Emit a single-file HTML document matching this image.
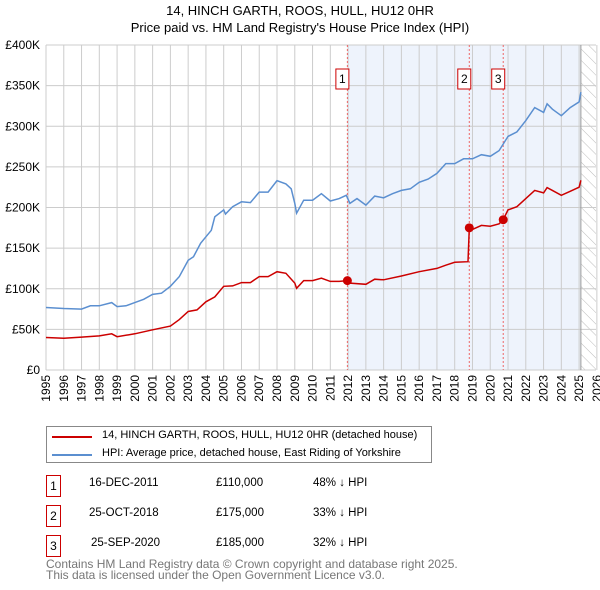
<!DOCTYPE html>
<html><head><meta charset="utf-8">
<style>
body{margin:0;background:#fff;font-family:"Liberation Sans","DejaVu Sans",sans-serif;}
#wrap{position:relative;width:600px;height:590px;overflow:hidden;}
.t{position:absolute;font-size:11.5px;color:#000;white-space:nowrap;}
.nb{position:absolute;width:13px;height:20px;border:1px solid #c00;font-size:12px;text-align:center;line-height:20px;}
</style></head><body>
<div id="wrap">
<div class="t" style="left:0;width:600px;text-align:center;top:3px;font-size:13px">14, HINCH GARTH, ROOS, HULL, HU12 0HR</div>
<div class="t" style="left:0;width:600px;text-align:center;top:20px;font-size:13px">Price paid vs. HM Land Registry's House Price Index (HPI)</div>
<svg id="chart" width="600" height="420" style="position:absolute;left:0;top:0">
<defs><pattern id="hatch" width="8" height="8" patternUnits="userSpaceOnUse" patternTransform="rotate(-45)"><line x1="0" y1="0" x2="0" y2="8" stroke="#bbb" stroke-width="1"/></pattern></defs>
<g id="g"></g>
</svg>
<div style="position:absolute;left:46px;top:426px;width:384px;height:35px;border:1px solid #888;">
<div style="position:absolute;left:5px;top:9px;width:40px;height:2px;background:#c00"></div>
<div class="t" style="left:55px;top:2px;font-size:11px">14, HINCH GARTH, ROOS, HULL, HU12 0HR (detached house)</div>
<div style="position:absolute;left:5px;top:27px;width:40px;height:2px;background:#5b8fd0"></div>
<div class="t" style="left:55px;top:20px;font-size:11px">HPI: Average price, detached house, East Riding of Yorkshire</div>
</div>
<div class="nb" style="left:46px;top:475px">1</div>
<div class="t" style="left:89px;top:477px">16-DEC-2011</div>
<div class="t" style="left:216px;top:477px">£110,000</div>
<div class="t" style="left:313px;top:477px">48% ↓ HPI</div>
<div class="nb" style="left:46px;top:505px">2</div>
<div class="t" style="left:89px;top:507px">25-OCT-2018</div>
<div class="t" style="left:216px;top:507px">£175,000</div>
<div class="t" style="left:313px;top:507px">33% ↓ HPI</div>
<div class="nb" style="left:46px;top:535px">3</div>
<div class="t" style="left:91px;top:537px">25-SEP-2020</div>
<div class="t" style="left:216px;top:537px">£185,000</div>
<div class="t" style="left:313px;top:537px">32% ↓ HPI</div>
<div class="t" style="left:46px;top:559px;color:#777;line-height:11px;font-size:12px">Contains HM Land Registry data © Crown copyright and database right 2025.<br>This data is licensed under the Open Government Licence v3.0.</div>
</div>
<script>
const yTicks=[0,50,100,150,200,250,300,350,400];
const yTickLabels=["£0","£50K","£100K","£150K","£200K","£250K","£300K","£350K","£400K"];
const xYears=[1995,1996,1997,1998,1999,2000,2001,2002,2003,2004,2005,2006,2007,2008,2009,2010,2011,2012,2013,2014,2015,2016,2017,2018,2019,2020,2021,2022,2023,2024,2025,2026];
const hpiT=[1995,1996,1997,1997.5,1998,1998.7,1999,1999.5,2000,2000.5,2001,2001.5,2002,2002.5,2003,2003.3,2003.7,2004,2004.3,2004.5,2005,2005.1,2005.5,2006,2006.5,2007,2007.5,2008,2008.5,2008.8,2009,2009.1,2009.5,2010,2010.5,2011,2011.5,2011.9,2012.1,2012.5,2013,2013.5,2014,2014.5,2015,2015.5,2016,2016.5,2017,2017.5,2018,2018.5,2019,2019.5,2020,2020.5,2021,2021.5,2022,2022.5,2023,2023.2,2023.5,2024,2024.5,2025,2025.1];
const hpiV=[76.9,75.7,75,79,79,83,78,79,83,87,93,94.5,103,115,135,139.5,156,164,172,188.5,197,192,201,207,206,219,219,233,229,223,205,193,209,209,217,208,211,215,205,211,203,214,212,217,221,223,231,235,242,254,254,260,260,265,263,270,287.5,293,307,323,317,327.6,321,313,323,330,342];
const redT=[1995,1996,1997,1998,1998.7,1999,2000,2001,2002,2002.5,2003,2003.5,2004,2004.5,2005,2005.5,2006,2006.5,2007,2007.5,2008,2008.5,2009,2009.1,2009.5,2010,2010.5,2011,2011.5,2011.96,2012.1,2013,2013.5,2014,2015,2016,2017,2017.5,2018,2018.75,2018.82,2019,2019.5,2020,2020.5,2020.73,2021,2021.5,2022,2022.5,2023,2023.2,2023.5,2024,2024.5,2025,2025.1];
const redV=[40,39,40.5,42,44.6,41,44.6,49.5,54,62,72,74,84,90,103,103.5,107.6,107.6,115,115,121,119,107,100.6,110,110,113,109,109,110,107,105.5,111.7,111,115.7,121,125,129,132.5,133.3,175,173,178,177,180,185,197,201,211,221,218,224.5,221,215,220,225,233.5];
const saleT=[2011.96,2018.82,2020.73];
const saleV=[110,175,185];
const saleLabels=["1","2","3"];
const X0=46,PX=17.77,Y0=370,PY=325/400,TOP=45,RIGHT=596,HATCH=2025.1;
const xs=t=>X0+(t-1995)*PX, ys=v=>Y0-v*PY;
const g=document.getElementById('g'),NS="http://www.w3.org/2000/svg";
function mk(tag,a){const e=document.createElementNS(NS,tag);for(const k in a)e.setAttribute(k,a[k]);g.appendChild(e);return e;}
let e;
e=mk('rect',{x:xs(saleT[0]),y:TOP,width:xs(HATCH)-xs(saleT[0]),height:Y0-TOP,fill:'#eef3fc'});


e=mk('rect',{x:xs(HATCH),y:TOP,width:RIGHT-xs(HATCH),height:Y0-TOP,fill:'url(#hatch)'});


xYears.forEach(y=>{e=mk('line',{x1:xs(y),x2:xs(y),y1:TOP,y2:Y0,stroke:'#ccc','stroke-width':1});


e=mk('text',{x:0,y:0,transform:`translate(${xs(y)+4},${Y0+5}) rotate(-90)`,'text-anchor':'end','font-size':12,'font-family':'Liberation Sans,sans-serif'});e.textContent=y;

});
yTicks.forEach((v,i)=>{e=mk('line',{x1:X0,x2:RIGHT,y1:ys(v),y2:ys(v),stroke:'#ccc','stroke-width':1});


e=mk('text',{x:40,y:ys(v)+4,'text-anchor':'end','font-size':12,'font-family':'Liberation Sans,sans-serif'});e.textContent=yTickLabels[i];

});
e=mk('line',{x1:xs(HATCH),x2:xs(HATCH),y1:TOP,y2:Y0,stroke:'#999','stroke-width':1});


saleT.forEach((t,i)=>{e=mk('line',{x1:xs(t),x2:xs(t),y1:TOP,y2:Y0,stroke:'#e66','stroke-width':1,'stroke-dasharray':'2,2'});


e=mk('rect',{x:xs(t)-11.5,y:69,width:13,height:20,fill:'#fff',stroke:'#c00','stroke-width':1});


e=mk('text',{x:xs(t)-5,y:83,'text-anchor':'middle','font-size':12,'font-family':'Liberation Sans,sans-serif'});e.textContent=saleLabels[i];

});
const pts=(T,V)=>T.map((t,i)=>xs(t).toFixed(1)+','+ys(V[i]).toFixed(1)).join(' ');
e=mk('polyline',{points:pts(hpiT,hpiV),fill:'none',stroke:'#5b8fd0','stroke-width':1.5});


e=mk('polyline',{points:pts(redT,redV),fill:'none',stroke:'#c00','stroke-width':1.5});


saleT.forEach((t,i)=>{e=mk('circle',{cx:xs(t),cy:ys(saleV[i]),r:4.5,fill:'#c00'});

});
</script>
</body></html>
